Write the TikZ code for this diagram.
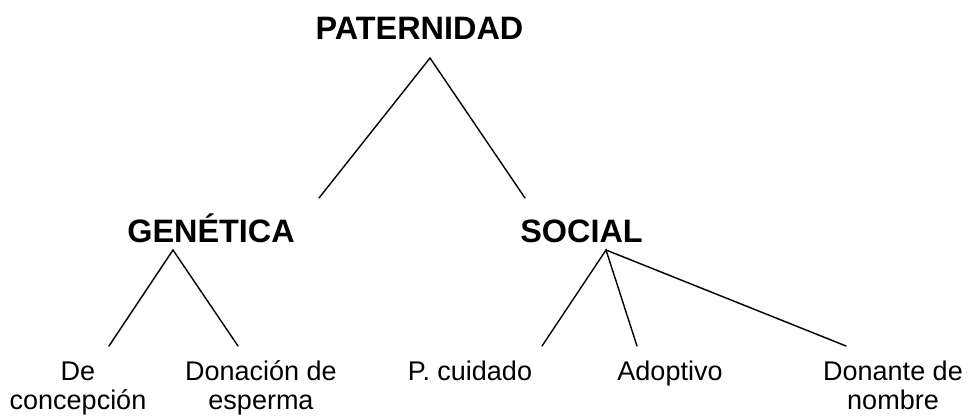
\documentclass[tikz,border=0pt]{standalone}
\usepackage{fontspec}
\setmainfont{Liberation Sans}
\begin{document}
\begin{tikzpicture}[x=1pt,y=-1pt,
  head/.style={font=\fontsize{32.4}{35}\selectfont\bfseries, inner sep=0pt, anchor=base},
  leaf/.style={font=\fontsize{27}{29.5}\selectfont, inner sep=0pt, anchor=base, align=center},
  conn/.style={line width=1.4pt, line cap=round}]
\useasboundingbox (0,0) rectangle (969,415);
\fill[white] (0,0) rectangle (969,415);
\node[head] (pat) at (419.5,39) {PATERNIDAD};
\node[head] (gen) at (211,242) {GENÉTICA};
\node[head] (soc) at (581.5,242) {SOCIAL};
\node[leaf] (dec) at (78,409.5) {De\\concepción};
\node[leaf] (don) at (261,409.5) {Donación de\\esperma};
\node[leaf] (cui) at (470,380) {P. cuidado};
\node[leaf] (ado) at (670,380) {Adoptivo};
\node[leaf] (dnn) at (893,409.5) {Donante de\\nombre};
\coordinate (pa) at (430,58);
\coordinate (gt) at (319,198);
\coordinate (st) at (525,198);
\coordinate (ga) at (173,250);
\coordinate (sa) at (606,250);
\coordinate (decT) at (109,346);
\coordinate (donT) at (238,346);
\coordinate (cuiT) at (542,346);
\coordinate (adoT) at (637,346);
\coordinate (dnnT) at (846,346);
\draw[conn] (gt) -- (pa) -- (st);
\draw[conn] (decT) -- (ga) -- (donT);
\draw[conn] (cuiT) -- (sa) -- (adoT);
\draw[conn] (sa) -- (dnnT);
\end{tikzpicture}
\end{document}
